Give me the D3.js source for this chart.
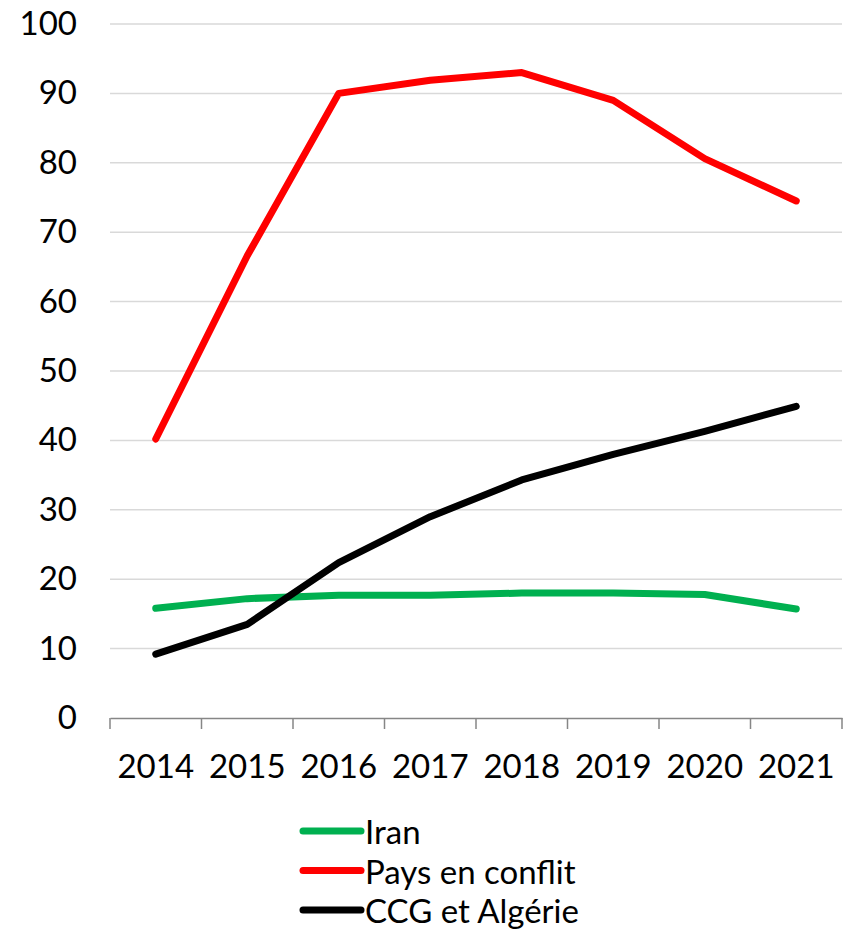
<!DOCTYPE html>
<html><head><meta charset="utf-8">
<script src="https://cdn.jsdelivr.net/npm/d3@7"></script>
<style>
html,body{margin:0;padding:0;background:#fff;}
svg{display:block;font-family:Lato, "Open Sans", sans-serif;}
</style></head>
<body>
<script>
const years = ["2014","2015","2016","2017","2018","2019","2020","2021"];
const iran = [15.8, 17.2, 17.7, 17.7, 18.0, 18.0, 17.8, 15.7];
const conflit = [40.2, 66.6, 90.0, 91.9, 93.0, 89.0, 80.6, 74.5];
const ccg = [9.2, 13.5, 22.4, 29.0, 34.3, 38.0, 41.3, 44.9];
const yTicks = [0,10,20,30,40,50,60,70,80,90,100];
const seriesNames = ["Iran","Pays en conflit","CCG et Algérie"];
const seriesColors = ["#00B050","#FF0000","#000000"];
const seriesData = [iran, conflit, ccg];

const W = 845, H = 929;
const svg = d3.select("body").append("svg").attr("width", W).attr("height", H);

const x = d3.scaleBand().domain(years).range([110, 842]);
const y = d3.scaleLinear().domain([0,100]).range([718, 24]);

// gridlines
svg.append("g").selectAll("line").data(yTicks.filter(d=>d>0)).join("line")
  .attr("x1", 110).attr("x2", 842)
  .attr("y1", d=>y(d)).attr("y2", d=>y(d))
  .attr("stroke", "#d9d9d9").attr("stroke-width", 1.5);

// y axis labels
const yAxis = svg.append("g").attr("transform","translate(110,0)")
  .call(d3.axisLeft(y).tickValues(yTicks).tickSize(0).tickPadding(33));
yAxis.select(".domain").remove();
yAxis.selectAll("text").attr("font-size", 33).attr("fill","#000")
  .attr("font-family","Lato, 'Open Sans', sans-serif");

// x axis
const xAxis = svg.append("g").attr("transform","translate(0,718)")
  .call(d3.axisBottom(x).tickSize(0).tickPadding(0));
xAxis.select(".domain").attr("stroke","#868686").attr("stroke-width",1.5);
xAxis.selectAll("text").attr("font-size", 33).attr("fill","#000")
  .attr("font-family","Lato, 'Open Sans', sans-serif")
  .attr("dy", null).attr("y", 60);
// tick marks at band boundaries
const bounds = years.map(d=>x(d)).concat([x(years[years.length-1]) + x.bandwidth()]);
svg.append("g").selectAll("line").data(bounds).join("line")
  .attr("x1", d=>d).attr("x2", d=>d).attr("y1", 718).attr("y2", 729)
  .attr("stroke","#868686").attr("stroke-width",1.5);

// lines
const line = d3.line().x((d,i)=>x(years[i]) + x.bandwidth()/2).y(d=>y(d));
seriesData.forEach((s,k)=>{
  svg.append("path").datum(s).attr("d", line)
    .attr("fill","none").attr("stroke", seriesColors[k]).attr("stroke-width", 7)
    .attr("stroke-linecap","round").attr("stroke-linejoin","round");
});

// legend
const lg = svg.append("g");
seriesNames.forEach((n,k)=>{
  const cy = 831 + k*39.5;
  lg.append("line").attr("x1",303).attr("x2",361).attr("y1",cy).attr("y2",cy)
    .attr("stroke", seriesColors[k]).attr("stroke-width",7).attr("stroke-linecap","round");
  lg.append("text").attr("x",365).attr("y",cy+13).text(n)
    .attr("font-size",33).attr("fill","#000");
});
</script>
</body></html>
